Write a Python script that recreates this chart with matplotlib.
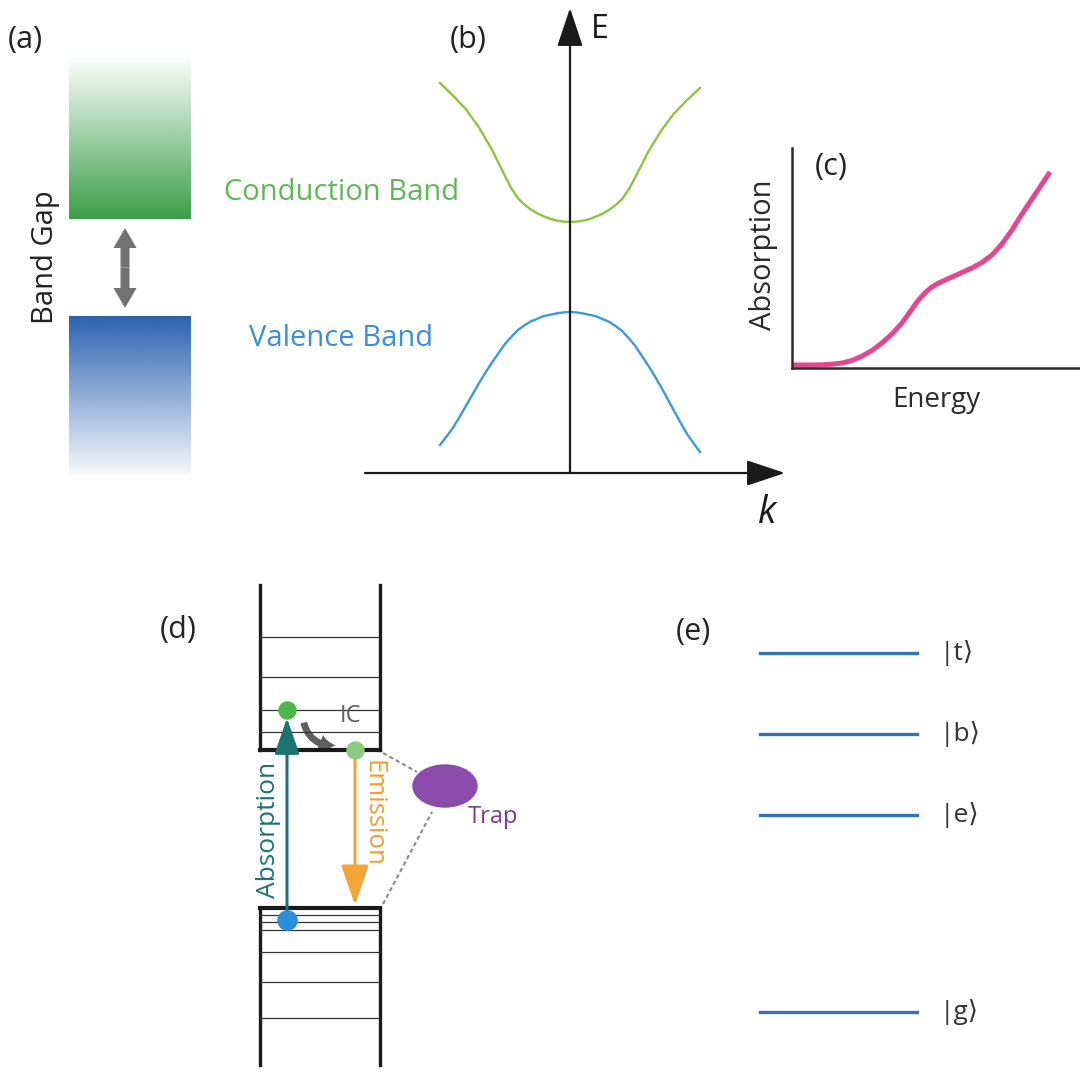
import numpy as np
import matplotlib
matplotlib.use("Agg")
import matplotlib.pyplot as plt
import matplotlib.colors as mcolors
from matplotlib.patches import Ellipse, FancyArrowPatch

plt.rcParams["font.family"] = ["Open Sans", "DejaVu Sans"]

W, H = 1080, 1074

# ── Data ──────────────────────────────────────────────────────────────────────
# (a) band edges (arbitrary energy units)
cb_bottom, cb_top = 0.97, 2.61
vb_top, vb_bottom = 0.00, -1.59

# (b) band dispersion, k in units of the curve half-width
k_vals = [-1.0, -0.95, -0.9, -0.85, -0.8, -0.75, -0.7, -0.65, -0.6, -0.55,
          -0.5, -0.45, -0.4, -0.35, -0.3, -0.25, -0.2, -0.15, -0.1, -0.05,
          0.0, 0.05, 0.1, 0.15, 0.2, 0.25, 0.3, 0.35, 0.4, 0.45,
          0.5, 0.55, 0.6, 0.65, 0.7, 0.75, 0.8, 0.85, 0.9, 0.95, 1.0]
cond_E = [3.900, 3.837, 3.775, 3.705, 3.636, 3.546, 3.455, 3.344, 3.233, 3.101,
          2.969, 2.844, 2.746, 2.684, 2.635, 2.596, 2.566, 2.541, 2.524, 2.514,
          2.510, 2.514, 2.523, 2.539, 2.564, 2.593, 2.631, 2.678, 2.738, 2.832,
          2.952, 3.080, 3.207, 3.314, 3.421, 3.508, 3.595, 3.662, 3.729, 3.790, 3.850]
val_E = [0.280, 0.364, 0.453, 0.559, 0.672, 0.785, 0.898, 1.005, 1.105, 1.198,
         1.291, 1.364, 1.430, 1.477, 1.517, 1.543, 1.570, 1.583, 1.597, 1.606,
         1.610, 1.606, 1.596, 1.582, 1.568, 1.540, 1.512, 1.470, 1.421, 1.351,
         1.274, 1.176, 1.078, 0.973, 0.861, 0.742, 0.623, 0.504, 0.392, 0.298, 0.210]

# (c) absorption spectrum
energy = [0.0, 0.1, 0.2, 0.3, 0.4, 0.5, 0.6, 0.7, 0.8, 0.9, 1.0, 1.1, 1.2,
          1.25, 1.3, 1.35, 1.4, 1.45, 1.5, 1.6, 1.7, 1.8, 1.9, 2.0, 2.1,
          2.2, 2.3, 2.4, 2.5, 2.58]
absorption = [0.030, 0.030, 0.030, 0.032, 0.038, 0.050, 0.075, 0.118, 0.175,
              0.250, 0.340, 0.450, 0.590, 0.660, 0.720, 0.770, 0.810, 0.840,
              0.865, 0.910, 0.955, 1.000, 1.055, 1.130, 1.240, 1.380, 1.540,
              1.690, 1.840, 1.960]

# (d) quantum-dot levels
cb_edge, vb_edge = 1.58, 0.00
cb_levels = [1.76, 1.98, 2.31, 2.71]
vb_levels = [-0.07, -0.14, -0.22, -0.44, -0.74, -1.10]
excited_E, hole_E = 1.98, -0.12

# (e) four-level system
state_labels = ["|t⟩", "|b⟩", "|e⟩", "|g⟩"]
state_E = [3.59, 2.78, 1.97, 0.00]

fig = plt.figure(figsize=(W / 100, H / 100), dpi=100)


def panel(x0, y0, x1, y1, xlim, ylim):
    # pixel box (top-left origin) -> axes
    ax = fig.add_axes([x0 / W, 1 - y1 / H, (x1 - x0) / W, (y1 - y0) / H])
    ax.set_xlim(*xlim)
    ax.set_ylim(*ylim)
    ax.set_axis_off()
    return ax


def gradient(ax, x0, x1, y0, y1, color, alpha):
    img = np.zeros((len(alpha), 1, 4))
    img[..., :3] = mcolors.to_rgb(color)
    img[:, 0, 3] = alpha
    ax.imshow(img, extent=[x0, x1, y0, y1], origin="lower", aspect="auto",
              interpolation="bilinear")


def letter(x, y, s):
    fig.text(x / W, 1 - y / H, s, fontsize=22, color="#222222",
             ha="left", va="center")


# ── (a) band picture ─────────────────────────────────────────────────────────
ax_a = panel(0, 0, 250, 500, (0, 2.5), (-1.84, 3.16))
t = np.linspace(0, 1, 256)
gradient(ax_a, 0.69, 1.91, cb_bottom, cb_top, "#3c9e48", 1 - t)
gradient(ax_a, 0.69, 1.91, vb_bottom, vb_top, "#2b62b1", 0.04 + 0.96 * t)
mid = (cb_bottom + vb_top) / 2
for end in (cb_bottom - 0.09, vb_top + 0.08):
    ax_a.add_patch(FancyArrowPatch((1.25, mid), (1.25, end),
                   arrowstyle="simple,head_length=1.0,head_width=1.15,tail_width=0.45",
                   mutation_scale=14.4, color="#727272", lw=0,
                   shrinkA=0, shrinkB=0))
ax_a.text(0.45, mid + 0.10, "Band Gap", rotation=90, fontsize=21,
          color="#222222", ha="center", va="center")
letter(8, 40, "(a)")

# ── (b) dispersion ───────────────────────────────────────────────────────────
ax_b = panel(340, 0, 800, 540, (-230 / 130, 230 / 130), (-0.67, 4.73))
ax_b.plot(k_vals, cond_E, color="#8cc63f", lw=1.7, solid_joinstyle="round")
ax_b.plot(k_vals, val_E, color="#3b9ad9", lw=1.7, solid_joinstyle="round")
axis_arrow = dict(arrowstyle="-|>,head_length=1.5,head_width=0.5",
                  mutation_scale=16, lw=1.6, color="#1a1a1a",
                  shrinkA=0, shrinkB=0)
ax_b.annotate("", xy=(0, 4.65), xytext=(0, 0), arrowprops=axis_arrow)
ax_b.annotate("", xy=(215 / 130, 0), xytext=(-205 / 130, 0),
              arrowprops=axis_arrow)
ax_b.text(0.16, 4.43, "E", fontsize=23, color="#1a1a1a",
          ha="left", va="center")
ax_b.text(1.52, -0.40, "k", fontsize=27, style="italic", color="#1a1a1a",
          ha="center", va="center")
ax_b.text(-1.76, 2.81, "Conduction Band", fontsize=21, color="#5fb858",
          ha="center", va="center", clip_on=False)
ax_b.text(-1.76, 1.35, "Valence Band", fontsize=21, color="#3b8fd4",
          ha="center", va="center", clip_on=False)
letter(450, 40, "(b)")

# ── (c) absorption ───────────────────────────────────────────────────────────
ax_c = fig.add_axes([792 / W, 1 - 368 / H, 288 / W, 220 / H])
ax_c.set_xlim(0, 2.88)
ax_c.set_ylim(0, 2.2)
ax_c.plot(energy, absorption, color="#e4478f", lw=3.6,
          solid_capstyle="butt", solid_joinstyle="round", clip_on=False)
for side in ("top", "right"):
    ax_c.spines[side].set_visible(False)
for side in ("left", "bottom"):
    ax_c.spines[side].set_linewidth(1.8)
    ax_c.spines[side].set_color("#2a2a2a")
ax_c.set_xticks([])
ax_c.set_yticks([])
ax_c.patch.set_alpha(0)
ax_c.text(1.44, -0.32, "Energy", fontsize=20, color="#2a2a2a",
          ha="center", va="center", clip_on=False)
ax_c.text(-0.29, 1.13, "Absorption", fontsize=21, rotation=90,
          color="#2a2a2a", ha="center", va="center", clip_on=False)
letter(815, 167, "(c)")

# ── (d) quantum-dot levels ───────────────────────────────────────────────────
ax_d = panel(150, 560, 560, 1074, (-1.1, 3.0), (-1.66, 3.48))
for x in (0, 1.2):
    ax_d.plot([x, x], [cb_edge, 3.23], color="#1a1a1a", lw=2.4)
    ax_d.plot([x, x], [vb_edge, -1.57], color="#1a1a1a", lw=2.4)
ax_d.plot([0, 1.2], [cb_edge, cb_edge], color="#1a1a1a", lw=3, solid_capstyle="projecting")
ax_d.plot([0, 1.2], [vb_edge, vb_edge], color="#1a1a1a", lw=3, solid_capstyle="projecting")
for e in cb_levels + vb_levels:
    ax_d.plot([0, 1.2], [e, e], color="#333333", lw=0.9)

ax_d.annotate("", xy=(0.27, excited_E - 0.08), xytext=(0.27, hole_E),
              arrowprops=dict(arrowstyle="-|>,head_length=1.3,head_width=0.45",
                              mutation_scale=17, lw=2.2, color="#1c7472",
                              shrinkA=0, shrinkB=0))
ax_d.annotate("", xy=(0.95, 0.03), xytext=(0.95, cb_edge - 0.10),
              arrowprops=dict(arrowstyle="-|>,head_length=1.3,head_width=0.45",
                              mutation_scale=19, lw=2.2, color="#f4a538",
                              shrinkA=0, shrinkB=0))
ax_d.add_patch(FancyArrowPatch((0.43, 1.88), (0.78, 1.63),
               connectionstyle="arc3,rad=0.45",
               arrowstyle="simple,head_length=0.8,head_width=0.9,tail_width=0.35",
               mutation_scale=14, color="#5f5f5f", lw=0))
ax_d.scatter([0.27], [excited_E], s=150, color="#4db649", zorder=5)
ax_d.scatter([0.95], [cb_edge], s=150, color="#8ccb7f", zorder=5)
ax_d.scatter([0.27], [hole_E], s=190, color="#2b8fe0", zorder=5)

ax_d.plot([1.23, 1.57], [1.55, 1.36], ls=(0, (2, 1.5)), color="#8a8a8a", lw=1.5)
ax_d.plot([1.23, 1.72], [0.04, 0.96], ls=(0, (2, 1.5)), color="#8a8a8a", lw=1.5)
ax_d.add_patch(Ellipse((1.85, 1.22), 0.64, 0.42, color="#8a4bab", zorder=4))
ax_d.text(2.33, 0.91, "Trap", fontsize=17, color="#7a3b95",
          ha="center", va="center")
ax_d.text(0.90, 1.92, "IC", fontsize=17, color="#5f5f5f",
          ha="center", va="center")
ax_d.text(0.08, 0.78, "Absorption", fontsize=19, rotation=90,
          color="#1c7472", ha="center", va="center")
ax_d.text(1.13, 0.95, "Emission", fontsize=18.5, rotation=270,
          color="#f39c32", ha="center", va="center")
letter(160, 630, "(d)")

# ── (e) four-level system ────────────────────────────────────────────────────
ax_e = panel(700, 600, 1080, 1074, (-0.6, 3.2), (-0.62, 4.12))
for lab, e in zip(state_labels, state_E):
    ax_e.plot([0, 1.57], [e, e], color="#2f73b9", lw=2.4)
    ax_e.text(1.80, e, lab, fontsize=19, color="#333333",
              ha="left", va="center")
letter(676, 632, "(e)")

fig.savefig("out.png", dpi=100, facecolor="white")
